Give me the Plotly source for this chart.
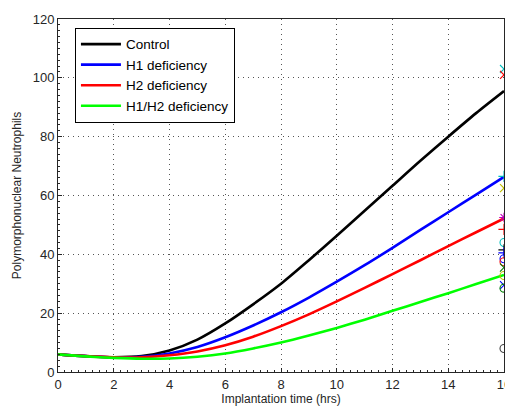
import plotly.graph_objects as go

hours = list(range(0, 17))
control = [6.0, 5.4, 5.0, 5.4, 7.3, 11.0, 16.5, 23.0, 30.0, 38.0, 46.3, 54.8, 63.3, 71.8, 80.0, 88.0, 95.5]
h1_def = [6.0, 5.4, 5.0, 5.2, 6.3, 8.5, 11.8, 15.8, 20.3, 25.3, 30.7, 36.3, 42.2, 48.3, 54.3, 60.3, 66.3]
h2_def = [6.0, 5.4, 5.0, 5.0, 5.7, 7.0, 9.1, 12.0, 15.6, 19.6, 24.0, 28.6, 33.3, 38.0, 42.8, 47.5, 52.2]
h1h2_def = [6.0, 5.3, 4.8, 4.5, 4.6, 5.2, 6.3, 8.0, 10.0, 12.4, 15.0, 17.8, 20.8, 23.8, 26.8, 29.9, 33.0]

series_names = ["Control", "H1 deficiency", "H2 deficiency", "H1/H2 deficiency"]
series_colors = ["#000000", "#0000ff", "#ff0000", "#00ff00"]

# observed data points at 16 hrs
obs_time = 16
obs_values = [103, 101, 66.5, 62.5, 52.5, 48.5, 44, 41.5, 40.5, 38.5, 37.5, 35.5, 32.8, 29.5, 28.5, 8]
obs_symbols = ["x-thin-open", "x-thin-open", "cross-thin-open", "x-thin-open", "asterisk-open",
               "cross-thin-open", "circle-open", "cross-thin-open", "cross-thin-open", "circle-open",
               "circle-open", "x-thin-open", "circle-open", "x-thin-open", "circle-open", "circle-open"]
obs_colors = ["#00bfbf", "#ff0000", "#00bfbf", "#bfbf00", "#bf00bf", "#ff0000", "#00bfbf", "#000000",
              "#0000ff", "#0000ff", "#ff0000", "#008000", "#bfbf00", "#0000ff", "#008000", "#404040"]

x_ticks = [0, 2, 4, 6, 8, 10, 12, 14, 16]
y_ticks = [0, 20, 40, 60, 80, 100, 120]

fig = go.Figure()
for name, ys, col in zip(series_names, [control, h1_def, h2_def, h1h2_def], series_colors):
    fig.add_trace(go.Scatter(x=hours, y=ys, mode="lines", name=name,
                             line=dict(color=col, width=2.6, shape="spline", smoothing=0.8)))

for v, s, c in zip(obs_values, obs_symbols, obs_colors):
    fig.add_trace(go.Scatter(x=[obs_time], y=[v], mode="markers", showlegend=False, cliponaxis=False,
                             marker=dict(symbol=s, size=8, color=c, line=dict(color=c, width=1.1))))

axis_common = dict(showline=True, linecolor="#262626", linewidth=1, mirror=True,
                   ticks="inside", ticklen=4, tickcolor="#262626",
                   showgrid=True, gridcolor="#555555", griddash="1px,4px", gridwidth=1,
                   zeroline=False, tickfont=dict(size=13, color="#262626"),
                   ticklabeloverflow="allow")

fig.update_xaxes(range=[0, 16], tickvals=x_ticks, ticktext=[str(t) for t in x_ticks],
                 title=dict(text="Implantation time (hrs)", font=dict(size=12, color="#262626"), standoff=3),
                 minor=dict(dtick=0.25, ticks="inside", ticklen=2, tickcolor="#262626", showgrid=False),
                 **axis_common)
fig.update_yaxes(range=[0, 120], tickvals=y_ticks, ticktext=[str(t) for t in y_ticks],
                 title=dict(text="Polymorphonuclear Neutrophils", font=dict(size=12, color="#262626"), standoff=8),
                 minor=dict(dtick=2, ticks="inside", ticklen=2, tickcolor="#262626", showgrid=False),
                 **axis_common)

fig.update_layout(
    width=505, height=399,
    margin=dict(l=50, r=9, t=11, b=35, autoexpand=False),
    paper_bgcolor="white", plot_bgcolor="white",
    font=dict(family="Liberation Sans, Arial, sans-serif", size=12, color="#000000"),
    legend=dict(x=0.038, y=0.975, xanchor="left", yanchor="top",
                bordercolor="#000000", borderwidth=1, bgcolor="white",
                font=dict(size=13.5, color="#000000"), tracegroupgap=0, itemwidth=40),
)

fig.write_html("out.html")
